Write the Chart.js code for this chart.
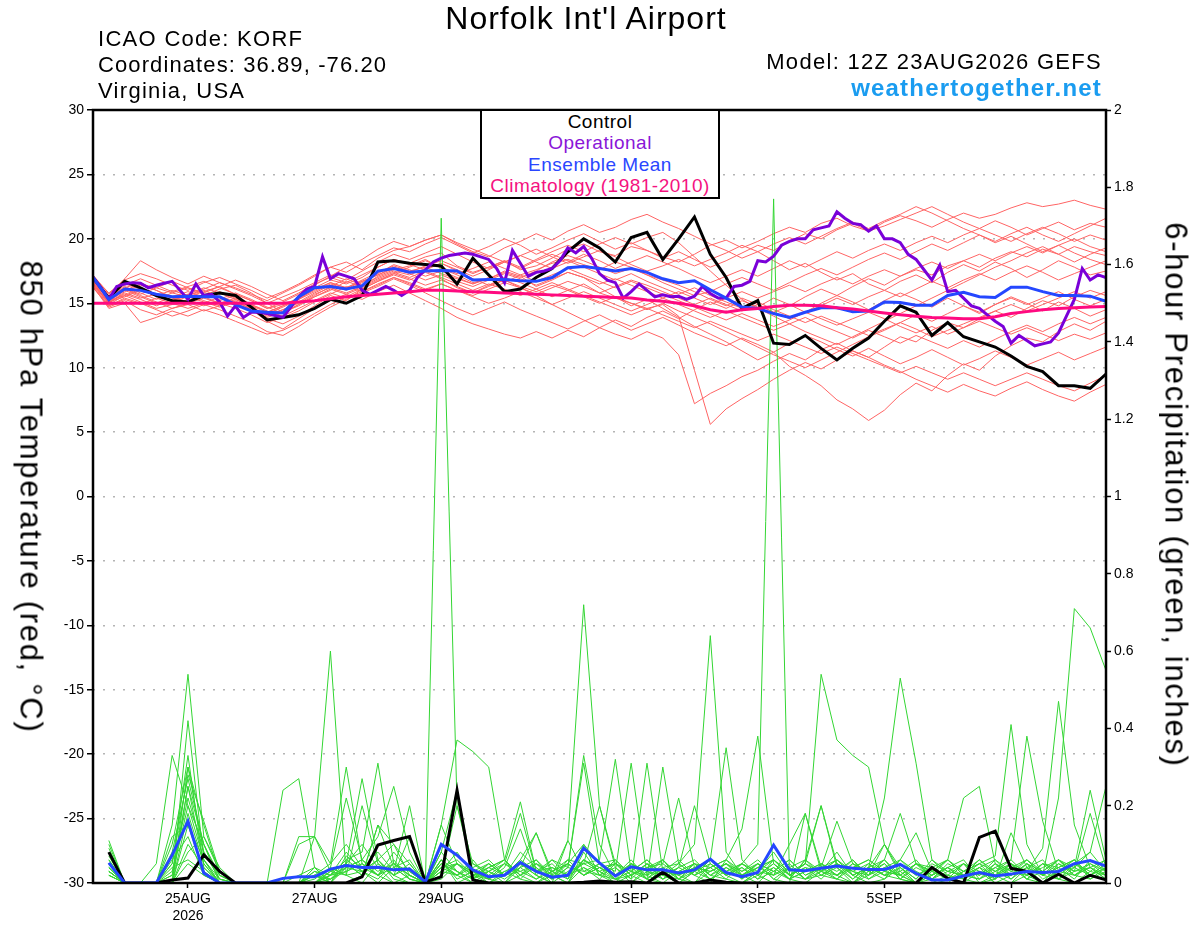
<!DOCTYPE html>
<html>
<head>
<meta charset="utf-8">
<script src="https://cdn.jsdelivr.net/npm/chart.js@4.4.1/dist/chart.umd.min.js"></script>
<style>
html,body{margin:0;padding:0;background:#fff;overflow:hidden}
#wrap{position:relative;width:1200px;height:927px}
.t{position:absolute;font-family:"Liberation Sans",Arial,sans-serif;color:#000;white-space:nowrap;line-height:1}
.rot{transform:translate(-50%,-50%) rotate(90deg)}
#legend{position:absolute;left:480px;top:109px;width:236px;height:86px;border:2px solid #000;background:#fff;
  text-align:center;font-family:"Liberation Sans",Arial,sans-serif;font-size:19px;line-height:21.3px;letter-spacing:0.5px}
</style>
</head>
<body>
<div id="wrap">
<canvas id="chart"></canvas>
<div class="t" style="left:0;width:1172px;text-align:center;top:2px;font-size:32px;letter-spacing:1px">Norfolk Int'l Airport</div>
<div class="t" style="left:98px;top:28px;font-size:22px;letter-spacing:1.3px">ICAO Code: KORF</div>
<div class="t" style="left:98px;top:54px;font-size:22px;letter-spacing:1.1px">Coordinates: 36.89, -76.20</div>
<div class="t" style="left:98px;top:80px;font-size:22px;letter-spacing:1.3px">Virginia, USA</div>
<div class="t" style="right:98px;top:51px;font-size:22px;letter-spacing:1.3px">Model: 12Z 23AUG2026 GEFS</div>
<div class="t" style="right:98px;top:76px;font-size:24px;font-weight:bold;letter-spacing:1.2px;color:#1a9cf0">weathertogether.net</div>
<div class="t rot" style="left:31px;top:497px;font-size:31px;letter-spacing:1.7px">850 hPa Temperature (red, °C)</div>
<div class="t rot" style="left:1176px;top:495px;font-size:31px;letter-spacing:1.7px">6-hour Precipitation (green, inches)</div>
<div id="legend">
<div style="color:#000">Control</div>
<div style="color:#8a16d8">Operational</div>
<div style="color:#2a46ff">Ensemble Mean</div>
<div style="color:#f5127f">Climatology (1981-2010)</div>
</div>
</div>
<script>
// x axis is forecast hour from 12Z 23AUG2026
const tickHours = [36, 84, 132, 204, 252, 300, 348];
const tickLabels = [['25AUG', '2026'], '27AUG', '29AUG', '1SEP', '3SEP', '5SEP', '7SEP'];

// 850 hPa temperature, 6-hourly from hour 0
const controlT = [17.0,15.4,16.7,16.2,15.6,15.2,15.1,15.6,15.8,15.6,
  14.7,13.7,13.9,14.1,14.6,15.3,15.0,15.6,18.2,18.3,
  18.1,18.0,17.9,16.5,18.5,17.2,15.9,16.1,17.0,17.7,
  19.0,20.0,19.3,18.2,20.1,20.5,18.4,20.0,21.7,18.8,
  17.0,14.6,15.2,11.9,11.8,12.5,11.5,10.6,11.5,12.3,
  13.6,14.8,14.3,12.5,13.5,12.4,12.0,11.6,10.9,10.1,
  9.7,8.6,8.6,8.4,9.5];
// operational run is 3-hourly
const operationalT = [17.0,16.2,15.3,16.3,16.5,16.6,16.55,16.2,16.4,16.55,
  16.7,16.0,15.3,16.5,15.6,15.7,15.1,14.0,14.8,13.9,
  14.3,14.3,14.2,14.05,13.9,14.7,15.5,16.1,16.3,18.6,
  16.9,17.3,17.1,16.9,16.0,15.7,16.0,16.3,16.0,15.6,
  16.0,17.0,17.6,18.2,18.5,18.7,18.8,18.9,18.8,18.6,
  18.4,17.7,16.6,19.1,18.1,17.1,17.4,17.5,17.7,18.3,
  19.3,18.9,19.4,18.5,17.3,16.8,16.6,15.4,15.9,16.5,
  16.0,15.5,15.65,15.5,15.55,15.3,15.55,16.3,15.75,15.4,
  15.4,16.3,16.4,16.7,18.3,18.2,18.65,19.5,19.8,20.0,
  20.0,20.7,20.85,21.0,22.1,21.6,21.2,21.1,20.6,21.0,
  20.0,20.0,19.7,18.8,18.4,17.6,16.8,17.95,15.9,16.0,
  15.4,14.8,14.6,14.1,13.6,13.2,11.9,12.5,12.1,11.7,
  11.85,12.0,12.7,14.0,15.3,17.7,16.8,17.2,17.0];
const meanT = [17.0,15.3,16.1,16.0,15.7,15.5,15.55,15.5,15.5,14.9,
  14.4,14.3,14.25,15.5,16.2,16.3,16.1,16.35,17.5,17.7,
  17.4,17.5,17.55,17.5,16.8,16.85,16.85,16.75,16.7,17.0,
  17.75,17.85,17.7,17.5,17.7,17.4,16.9,16.6,16.75,16.05,
  15.4,14.7,14.6,14.2,13.9,14.3,14.65,14.65,14.35,14.4,
  15.1,15.05,14.85,14.85,15.6,15.85,15.5,15.45,16.25,16.25,
  15.9,15.6,15.6,15.55,15.15];
const climT = [15.0,15.0,15.0,15.0,15.0,15.0,15.0,15.0,15.0,15.0,
  15.0,15.0,15.0,15.1,15.2,15.35,15.5,15.6,15.7,15.8,
  15.9,16.0,16.0,15.95,15.9,15.85,15.8,15.75,15.7,15.65,
  15.6,15.55,15.5,15.45,15.4,15.25,15.15,15.0,14.8,14.5,
  14.3,14.5,14.6,14.75,14.85,14.85,14.8,14.65,14.55,14.4,
  14.25,14.1,14.0,13.9,13.85,13.8,13.8,13.95,14.2,14.35,
  14.5,14.6,14.65,14.7,14.75];

// ensemble member temperatures
const t01 = [16.8,15.2,16.0,16.5,16.2,15.8,15.5,15.9,16.3,15.7,15.2,14.6,14.9,15.4,16.2,16.8,16.5,17.0,17.8,18.4,18.1,18.6,18.9,17.9,17.4,17.8,18.3,17.6,17.9,18.5,19.2,19.6,19.0,18.7,19.4,19.1,18.6,18.2,18.8,19.5,19.9,19.3,19.8,20.4,20.9,20.5,21.2,21.6,21.0,20.6,21.3,21.8,21.4,20.9,21.5,22.0,21.6,21.9,22.4,22.8,22.5,22.7,23.0,22.6,22.3];
const t02 = [16.5,14.9,15.6,15.1,14.6,14.9,15.3,14.8,15.2,15.6,14.9,13.8,13.4,14.0,14.8,15.6,15.2,16.1,16.7,17.2,16.8,17.4,16.9,16.2,15.8,16.4,17.0,16.6,16.1,15.5,16.0,16.5,15.8,15.4,15.0,14.6,14.9,14.0,9.8,5.6,6.8,7.6,8.3,9.1,9.8,10.4,9.9,10.6,11.3,10.8,11.6,12.4,12.0,12.9,13.5,13.1,13.8,14.4,13.9,14.6,15.2,14.8,15.5,16.0,15.6];
const t03 = [16.9,15.5,16.2,16.6,16.0,15.4,15.0,15.6,16.1,16.4,15.8,15.0,14.3,14.8,15.5,16.0,16.7,16.3,17.1,17.6,17.9,18.4,17.7,17.2,16.6,16.9,17.5,17.1,16.3,16.8,17.4,17.0,16.2,15.5,14.8,15.3,14.6,13.9,13.2,12.6,12.0,11.3,10.6,11.2,10.1,9.4,8.6,7.5,6.8,5.9,6.7,7.9,8.8,8.2,9.4,10.3,9.8,10.9,11.7,12.3,12.0,12.8,13.4,12.9,13.6];
const t04 = [17.1,15.8,16.8,17.3,16.9,16.4,16.0,16.6,17.0,16.5,16.0,15.4,15.9,16.5,17.2,17.8,18.2,17.6,18.5,19.1,19.4,19.9,20.3,19.6,19.0,18.6,19.3,19.8,20.4,19.9,20.6,21.1,20.5,20.9,21.5,21.9,21.3,20.8,20.2,19.6,19.1,18.5,19.0,18.3,17.6,18.1,17.4,16.8,17.3,16.5,16.0,16.7,17.2,16.6,17.4,18.0,17.5,18.2,17.7,17.0,17.6,18.3,17.8,17.2,17.5];
const t05 = [16.6,15.0,15.8,15.4,15.7,15.2,15.6,16.0,15.5,15.1,14.6,14.2,14.7,15.3,16.1,16.6,16.2,16.8,17.4,17.9,17.5,17.8,17.3,16.9,16.5,17.0,16.6,17.2,17.6,18.1,18.4,18.0,17.6,18.2,17.8,17.2,16.8,16.4,15.9,15.3,14.8,15.4,14.9,14.3,14.8,15.5,16.1,15.6,16.3,16.9,16.4,17.1,17.6,17.2,17.9,18.3,17.8,18.5,19.0,18.6,19.2,18.8,19.4,19.0,18.7];
const t06 = [16.3,14.7,15.2,14.5,14.1,14.6,14.9,14.4,14.8,15.2,14.5,13.6,13.0,13.8,14.6,15.2,15.7,15.3,15.9,16.4,15.8,15.2,14.6,13.9,13.4,13.0,12.6,12.3,12.8,12.3,12.9,12.4,13.1,13.7,13.2,13.9,14.4,13.8,14.5,15.1,14.6,15.2,14.7,15.4,14.9,14.3,15.0,15.6,15.1,14.5,15.2,15.8,15.3,14.7,15.4,14.8,14.2,14.9,15.5,15.0,14.4,15.1,14.6,14.0,14.5];
const t07 = [17.2,15.7,16.9,18.3,17.6,17.0,16.5,17.1,16.6,16.2,15.7,15.2,15.8,16.4,17.1,17.8,17.4,18.1,18.7,19.3,19.0,19.6,20.1,19.5,18.9,19.4,20.0,19.5,18.8,19.3,19.9,20.4,19.8,19.2,19.7,19.1,18.5,19.0,18.4,17.8,18.3,18.9,19.5,19.1,19.8,20.4,20.0,20.7,21.2,20.6,21.0,21.5,22.0,22.5,21.9,21.3,20.8,21.4,20.9,20.3,20.8,21.3,20.7,21.2,20.9];
const t08 = [16.7,15.3,16.3,15.8,15.3,15.8,16.2,15.7,15.3,15.8,15.3,14.7,14.2,14.9,15.6,16.3,16.9,16.4,17.0,17.5,17.2,17.7,18.1,17.5,16.9,16.4,16.8,16.2,15.6,14.9,14.3,13.7,13.1,12.6,12.2,12.8,12.3,11.0,7.2,8.0,8.6,9.3,9.8,10.5,11.1,10.6,11.4,11.9,11.3,10.8,10.2,9.7,9.1,8.6,8.1,8.7,8.2,7.8,8.4,8.9,8.3,7.8,7.4,8.1,8.7];
const t09 = [16.4,15.1,15.5,16.0,15.6,15.1,15.5,15.1,14.7,15.1,14.6,14.1,14.5,15.1,15.8,16.4,16.0,16.6,17.3,18.0,17.6,17.1,17.5,17.0,16.5,16.9,17.4,17.0,17.5,18.2,18.7,18.3,17.8,17.3,17.7,17.2,16.6,16.1,15.6,15.9,16.5,17.0,16.5,16.0,16.6,17.2,17.7,17.2,17.8,18.4,18.9,18.4,19.0,19.6,19.1,19.7,20.3,19.8,20.4,20.9,20.3,19.8,20.4,21.0,21.6];
const t10 = [16.2,14.8,15.4,15.0,14.5,14.0,14.4,14.9,14.5,14.0,13.5,12.8,12.5,13.2,14.0,14.7,15.3,15.8,16.3,16.9,16.4,15.8,15.2,14.6,14.1,14.6,15.1,14.5,14.0,13.5,13.0,13.6,14.1,13.5,12.9,13.4,13.9,13.3,12.7,12.2,11.7,12.3,11.8,11.2,11.9,12.5,12.0,11.4,10.9,11.5,10.9,10.3,10.8,11.4,10.8,10.2,10.7,11.3,10.8,10.2,10.7,11.2,10.6,11.1,11.6];
const t11 = [16.9,15.6,16.5,16.1,15.6,16.0,15.6,16.1,16.6,16.1,15.6,15.0,15.5,16.0,16.6,17.2,16.8,17.5,18.2,18.8,18.4,18.9,19.4,18.8,18.2,17.7,18.2,18.7,19.2,18.6,18.1,18.6,19.1,18.6,18.0,17.5,17.9,18.4,17.9,18.4,18.9,19.5,19.0,19.6,20.1,19.6,20.2,20.8,21.3,20.8,21.4,21.9,22.5,22.0,21.4,20.8,20.3,19.7,20.2,19.6,19.0,19.5,18.9,18.4,18.0];
const t12 = [16.5,15.0,15.9,16.4,16.0,15.5,15.1,15.5,15.9,15.4,14.9,14.4,14.0,14.6,15.2,15.8,15.4,15.9,16.5,17.0,16.6,16.1,16.5,16.0,15.6,16.1,16.6,16.2,15.7,16.2,16.7,16.3,15.8,16.3,16.8,16.4,15.9,15.4,14.9,15.4,14.9,14.4,14.9,14.3,13.8,14.3,13.8,13.3,13.8,14.3,13.8,13.2,12.7,13.2,12.6,13.1,13.6,13.1,12.6,13.1,12.6,12.1,12.6,12.2,12.7];
const t13 = [16.3,14.6,15.0,13.5,13.9,14.4,14.0,14.5,14.1,13.6,13.1,12.6,12.9,13.5,14.2,14.9,15.5,16.1,16.7,17.3,17.8,18.3,17.8,17.3,17.7,18.2,17.7,17.2,16.7,17.2,17.7,17.2,16.7,16.2,16.7,16.2,15.7,15.2,14.7,14.2,13.7,14.2,13.7,13.2,13.7,14.3,14.8,15.4,14.9,15.5,16.0,15.5,16.1,16.7,16.2,16.8,17.3,16.8,17.4,17.9,17.4,16.8,17.3,17.8,18.3];
const t14 = [17.0,15.4,16.4,16.9,16.4,15.9,16.3,16.7,16.2,15.7,15.2,14.6,15.1,15.7,16.4,17.1,17.8,18.4,19.2,19.8,19.4,19.9,20.3,19.7,19.2,18.7,18.2,17.7,18.3,18.8,18.3,17.8,17.3,16.8,17.3,16.7,16.2,15.7,16.2,15.6,15.1,14.6,15.1,14.5,14.0,13.5,14.0,13.5,13.0,12.5,13.0,13.5,13.0,12.4,12.9,13.4,13.9,14.4,14.9,14.4,14.9,15.4,15.9,15.4,15.9];
const t15 = [16.6,15.1,15.7,15.3,14.8,15.3,15.7,15.2,14.8,15.3,14.7,14.0,14.5,15.0,15.7,16.2,15.8,16.3,16.9,17.4,17.0,17.5,17.0,16.5,16.0,16.5,16.1,15.6,16.1,16.6,16.1,15.6,15.1,14.6,14.1,14.6,14.1,13.6,13.1,13.6,13.1,12.6,12.1,12.6,12.1,11.6,11.1,11.6,11.1,10.6,10.1,9.6,10.1,9.6,9.1,9.6,9.1,8.6,9.1,9.6,9.1,8.6,8.2,8.8,9.4];
const t16 = [16.8,15.4,16.1,15.7,16.2,16.7,16.2,15.8,16.3,16.8,16.3,15.7,15.2,15.8,16.5,17.0,16.6,17.2,17.8,18.4,18.0,17.6,18.1,17.6,17.1,17.6,18.2,18.7,18.2,17.7,18.2,18.8,18.3,17.7,18.2,18.7,18.2,17.7,17.1,16.6,17.1,17.6,17.1,17.7,18.3,17.8,18.4,19.0,18.5,19.1,19.6,19.1,19.7,20.2,19.7,20.3,20.8,20.3,19.8,20.4,20.9,20.4,19.8,20.3,19.9];
const t17 = [16.4,14.8,15.3,14.9,15.4,15.0,14.6,15.0,15.5,15.0,14.5,13.9,14.3,14.9,15.5,16.1,15.7,16.2,16.8,17.3,16.9,16.4,16.8,16.3,15.8,16.3,16.8,16.3,15.9,16.4,16.0,15.5,15.0,15.5,15.0,14.5,15.0,14.4,13.9,13.4,12.8,12.2,11.6,11.0,10.5,10.0,10.6,11.2,11.8,12.4,12.9,13.5,14.1,13.6,14.2,14.8,14.3,14.9,15.4,14.9,15.4,15.9,15.3,14.8,15.3];
const t18 = [16.7,15.2,15.6,16.1,15.7,15.2,15.7,16.2,15.8,15.3,14.8,14.3,14.8,15.4,16.0,16.6,16.2,16.7,17.2,17.7,17.3,16.8,17.2,16.7,16.3,16.8,17.3,16.9,16.4,16.9,17.4,17.0,16.5,16.9,16.4,15.9,15.4,15.9,15.4,14.9,15.4,15.9,15.4,15.9,16.4,15.9,16.5,17.0,16.5,17.1,17.6,17.1,17.7,18.2,17.7,18.3,18.8,18.3,18.9,19.4,18.9,19.5,20.0,19.4,19.0];
const t19 = [16.5,15.1,16.0,15.5,15.0,15.5,15.9,15.5,15.0,15.4,14.9,14.3,14.8,15.3,15.9,16.5,16.1,16.7,17.2,17.8,17.4,17.9,18.3,17.8,17.3,17.8,18.3,17.8,18.4,19.0,19.5,19.0,19.6,20.1,19.6,20.1,20.5,19.7,18.6,17.5,16.4,15.3,14.6,14.0,13.4,13.9,13.3,12.8,12.3,12.9,12.4,11.9,12.5,12.0,11.5,12.1,11.6,12.2,12.8,13.3,12.8,13.4,13.9,13.4,13.9];
const t20 = [16.6,15.3,16.1,15.6,15.1,14.6,15.0,15.4,15.0,14.6,14.1,13.5,13.9,14.4,15.1,15.7,16.3,15.9,16.4,17.0,16.5,16.0,16.5,16.0,15.5,15.0,15.4,15.9,15.4,14.9,15.4,15.9,15.4,14.9,14.4,14.9,15.4,14.9,14.4,13.9,14.4,13.9,13.4,12.9,13.4,12.8,12.3,11.8,12.4,13.0,13.6,14.2,14.8,15.4,16.0,16.6,17.2,17.8,18.3,18.9,19.4,18.8,18.2,18.8,19.3];
const tempMembers = [t01,t02,t03,t04,t05,t06,t07,t08,t09,t10,t11,t12,t13,t14,t15,t16,t17,t18,t19,t20];

// 6-hour precipitation, from hour 6
const controlP = [0.08,0,0,0,0.008,0.013,0.073,0.03, 0,0,0,0,0,0,0,0,
  0.016,0.098,0.11,0.12,0.003,0.016,0.24,0.008, 0,0,0,0,0,0,0.002,0.005,
  0.002,0.003,0,0.028,0,0,0.008,0.002, 0,0,0,0,0,0,0,0,
  0,0,0,0,0.04,0.012,0,0.118, 0.134,0.038,0.03,0,0.023,0,0.02,0.008];
const meanP = [0.052,0,0,0,0.072,0.16,0.026,0, 0,0,0,0.012,0.016,0.016,0.036,0.045,
  0.04,0.041,0.034,0.036,0.003,0.1,0.072,0.034, 0.016,0.02,0.053,0.03,0.015,0.02,0.09,0.052,
  0.018,0.042,0.034,0.034,0.026,0.034,0.062,0.027, 0.016,0.027,0.098,0.034,0.032,0.038,0.044,0.038,
  0.035,0.035,0.048,0.025,0.008,0.008,0.018,0.027, 0.018,0.023,0.03,0.027,0.03,0.05,0.058,0.044];

const p01 = [.03,0,0,0,.02,.25,.05,0, 0,0,0,0,0,.02,.05,.1, .04,.02,0,0,0,1.72,.2,.03, 0,0,.05,.02,0,0,.04,.02, 0,.05,.02,0,0,.03,.01,0, 0,.02,.05,.01,0,.03,.08,.02, 0,.01,.04,0,0,.02,0,.03, 0,0,.02,.05,.01,0,.03,.06];
const p02 = [.06,0,0,0,.1,.3,.08,.02, 0,0,0,0,.02,.04,0,.05, .1,.04,0,.02,0,.05,.02,0, .03,.06,.01,0,.02,.05,.1,.02, .01,0,.04,.02,0,.03,.06,.02, .05,.1,1.77,.02,.01,.04,.02,0, .03,.05,.01,0,.02,.04,.01,0, .02,.05,.01,0,.03,.02,.04,.01];
const p03 = [.08,0,0,0,.15,.54,.12,.03, 0,0,0,0,0,0,.02,.08, .03,0,.04,.01,0,.08,.03,0, 0,.02,.08,.04,0,.11,.72,.2, .05,.02,0,.04,.01,0,.05,.02, 0,.03,.08,.02,.05,.2,.04,0, .02,.06,.01,0,.03,.02,.05,0, .01,.13,.04,0,.02,.05,.08,.03];
const p04 = [.02,0,0,.05,.33,.2,.1,.01, 0,0,0,0,0,.12,.6,.02, 0,.05,.02,0,0,.06,0,.02, .01,0,.04,.13,.02,0,.06,.03, 0,.02,.05,.01,.04,.02,0,.06, .02,.05,.01,0,.18,.04,.01,0, .04,.1,.02,0,.01,.03,.02,.04, 0,.02,.05,.01,.03,.04,.24,.06];
const p05 = [.04,0,0,0,0,.42,.06,0, 0,0,0,.24,.27,.04,0,0, .02,.06,.01,0,0,.03,.08,.02, 0,.03,.01,.05,.02,0,.08,.02, .04,0,.03,.02,.05,.1,.64,.08, .02,0,.04,.01,.03,.05,.02,.06, .01,.03,.02,0,.04,.01,.02,.01, .03,.06,.02,0,.05,.02,.01,.04];
const p06 = [.05,0,0,0,.05,.33,.04,0, 0,0,0,0,.1,.12,.05,.3, .05,.02,.06,.01,0,.04,.05,.01, .03,0,.02,.06,.01,.04,.33,.1, .02,.05,.01,0,.03,.05,.02,.01, 0,.03,.06,.02,.05,.54,.37,.33, .3,.1,.03,0,.02,.04,.01,.03, .02,0,.04,.02,.01,.05,.03,.02];
const p07 = [.03,0,0,0,0,.3,.15,.02, 0,0,0,0,0,.03,.02,.06, .08,.31,.05,.02,0,.15,.37,.34, .3,.06,.02,0,.03,.05,.02,.04, .01,.02,.04,.06,.02,0,.03,.05, .01,.04,.02,.05,.01,.03,.06,.02, .04,.22,.53,.31,.06,.02,.01,.04, .02,.05,.01,.03,.06,.02,.04,.01];
const p08 = [.07,0,0,0,.08,.27,.1,0, 0,0,0,0,0,0,.03,.05, .27,.06,.02,.05,0,.02,.05,.03, .01,.04,.14,.02,0,.03,.05,.06, .32,.03,.01,.05,.02,.04,.01,.03, .05,.02,0,.04,.01,.02,.05,.03, .01,.04,.02,.05,.01,0,.03,.05, .07,.41,.1,.02,.04,.06,.02,.05];
const p09 = [.05,0,0,0,.03,.22,.08,.01, 0,0,0,0,0,.02,0,.04, .06,.12,.25,.08,0,.05,.03,.01, .05,.02,.06,.03,.05,.01,.1,.05, .03,.31,.02,.04,.01,.03,.05,.02, .04,.01,.06,.02,.04,.03,.01,.05, .03,.01,.06,.02,.04,.01,.05,.03, .01,.05,.03,.09,.47,.15,.04,.02];
const p10 = [.1,0,0,0,0,.18,.05,0, 0,0,0,0,0,.04,.02,.03, .05,.02,.08,.03,0,.04,.02,.05, .02,.05,.03,.01,.04,.02,.06,.03, .05,.01,.31,.03,.02,.05,.01,.04, .02,.05,.03,.01,.06,.02,.04,.01, .05,.02,.03,.06,.01,.04,.02,.05, .03,.01,.05,.02,.22,.71,.66,.55];
const p11 = [.02,0,0,0,.12,.15,.03,0, 0,0,0,0,0,0,.04,.02, .03,.06,.02,.12,0,.01,.05,.02, .04,.06,.21,.03,.01,.05,.02,.04, .02,.04,.01,.3,.05,.02,.04,.06, .14,.38,.05,.02,.04,.01,.05,.02, .04,.02,.01,.05,.03,.06,.02,.01, .04,.02,.06,.03,.01,.04,.02,.05];
const p12 = [.04,0,0,0,.06,.12,.02,0, 0,0,0,0,0,.03,.01,.05, .02,.15,.04,.01,0,.03,.02,.06, .01,.03,.05,.02,.06,.04,.03,.02, .06,.02,.04,.05,.22,.04,.06,.35, .06,.02,.05,.01,.03,.05,.02,.04, .06,.03,.05,.02,.04,.06,.22,.25, .05,.02,.04,.06,.01,.03,.05,.02];
const p13 = [.03,0,0,0,0,.08,.12,.04, 0,0,0,0,0,0,.02,.06, .03,.01,.05,.02,0,.06,.01,.03, .05,.02,.04,.01,.03,.06,.02,.05, .01,.03,.06,.02,.04,.2,.05,.02, .04,.01,.03,.06,.02,.04,.16,.05, .02,.1,.04,.01,.05,.03,.02,.06, .03,.05,.02,.04,.06,.03,.18,.04];
const p14 = [.06,0,0,0,0,.1,.04,0, 0,0,0,0,0,0,.01,.03, .05,.02,.04,.06,0,.03,.05,.02, .03,.05,.02,.04,.01,.06,.05,.2, .04,.01,.05,.03,.06,.02,.04,.01, .05,.03,.02,.1,.18,.03,.05,.01, .04,.02,.06,.03,.01,.05,.03,.02, .05,.01,.04,.02,.06,.04,.08,.25];
const p15 = [.05,0,0,0,0,.15,.06,.01, 0,0,0,0,0,.02,0,.07, .04,.08,.03,.2,0,.06,.03,.01, .04,.02,.06,.13,.03,.05,.02,.04, .02,.05,.03,.01,.04,.06,.02,.05, .03,.06,.02,.04,.01,.05,.03,.06, .02,.04,.06,.13,.03,.01,.05,.02, .04,.06,.38,.16,.03,.05,.02,.04];
const p16 = [.02,0,0,0,.04,.06,.03,0, 0,0,0,0,0,.01,.04,.22, .06,.03,.05,.02,0,.08,.24,.03, .01,.05,.18,.03,.06,.02,.04,.01, .05,.03,.02,.06,.01,.04,.03,.05, .02,.04,.06,.03,.05,.02,.01,.04, .06,.03,.02,.05,.04,.01,.03,.06, .02,.04,.01,.05,.03,.06,.02,.04];
const p17 = [.04,0,0,0,0,.05,.02,0, 0,0,0,0,0,0,.03,.02, .2,.05,.02,.04,0,.02,.2,.05, .03,.01,.04,.06,.02,.11,.03,.05, .06,.02,.05,.01,.03,.05,.02,.04, .01,.05,.03,.06,.02,.04,.06,.03, .05,.02,.04,.01,.06,.03,.05,.02, .06,.03,.02,.05,.04,.01,.06,.03];
const p18 = [.09,0,0,0,.02,.2,.06,0, 0,0,0,0,.12,.12,.03,.05, .02,.15,.1,.05,0,.04,.06,.02, .05,.02,.03,.05,.01,.04,.31,.05, .02,.06,.01,.04,.05,.02,.06,.03, .05,.02,.04,.01,.06,.2,.05,.03, .02,.05,.01,.04,.02,.06,.03,.05, .01,.04,.06,.02,.05,.03,.04,.06];
const p19 = [.03,0,0,0,.05,.28,.16,.03, 0,0,0,0,0,0,.02,.04, .06,.02,.05,.03,0,.15,.05,.02, .04,.06,.02,.05,.03,.01,.06,.04, .05,.03,.06,.02,.01,.05,.04,.06, .03,.05,.01,.04,.06,.03,.02,.05, .03,.06,.18,.05,.02,.04,.06,.01, .05,.03,.06,.02,.04,.06,.01,.03];
const p20 = [.11,0,0,0,0,.25,.1,.02, 0,0,0,0,0,.02,.01,.04, .03,.06,.1,.02,0,.05,.02,.04, .06,.02,.05,.03,.04,.02,.05,.03, .01,.05,.03,.06,.02,.04,.03,.05, .02,.04,.06,.02,.05,.03,.06,.02, .04,.06,.02,.05,.03,.06,.02,.04, .06,.02,.05,.03,.06,.02,.05,.03];
const precipMembers = [p01,p02,p03,p04,p05,p06,p07,p08,p09,p10,p11,p12,p13,p14,p15,p16,p17,p18,p19,p20];

const toXY = (arr, start, step) => arr.map((v, j) => ({x: start + j * step, y: v}));

function line(data, color, width, axis, order) {
  return {data: data, borderColor: color, borderWidth: width, yAxisID: axis, order: order,
    pointRadius: 0, tension: 0, fill: false};
}

const datasets = [];
tempMembers.forEach(a => datasets.push(line(toXY(a, 0, 6), '#ff6464', 1, 'y', 7)));
precipMembers.forEach(a => datasets.push(line(toXY(a, 6, 6), '#33d633', 1, 'y2', 6)));
datasets.push(line(toXY(controlP, 6, 6), '#000', 3, 'y2', 5));
datasets.push(line(toXY(meanP, 6, 6), '#2447ff', 3, 'y2', 4));
datasets.push(line(toXY(controlT, 0, 6), '#000', 3, 'y', 3));
datasets.push(line(toXY(operationalT, 0, 3), '#7a00d8', 3, 'y', 2));
datasets.push(line(toXY(meanT, 0, 6), '#2447ff', 3, 'y', 1));
datasets.push(line(toXY(climT, 0, 6), '#ff0a80', 3, 'y', 0));

const frame = {
  id: 'frame',
  afterDatasetsDraw(chart) {
    const {ctx, chartArea: a} = chart;
    ctx.save();
    ctx.strokeStyle = '#000';
    ctx.lineWidth = 2.5;
    ctx.strokeRect(a.left, a.top, a.right - a.left, a.bottom - a.top);
    ctx.restore();
  }
};

Chart.defaults.font.family = '"Liberation Sans", Arial, sans-serif';
Chart.defaults.color = '#000';

new Chart(document.getElementById('chart'), {
  type: 'line',
  data: {datasets: datasets},
  plugins: [frame],
  options: {
    responsive: true,
    maintainAspectRatio: false,
    animation: false,
    layout: {padding: {top: 110, left: 0, right: 0, bottom: 0}},
    plugins: {legend: {display: false}, tooltip: {enabled: false}},
    scales: {
      x: {
        type: 'linear', min: 0, max: 384,
        afterBuildTicks: s => { s.ticks = tickHours.map(v => ({value: v})); },
        afterFit: s => { s.height = 44; },
        grid: {drawOnChartArea: false, drawTicks: true, tickLength: 5, tickColor: '#000', tickWidth: 1.5},
        border: {display: false},
        ticks: {font: {size: 14}, padding: 3, maxRotation: 0, autoSkip: false,
          callback: v => { const k = tickHours.indexOf(v); return k >= 0 ? tickLabels[k] : ''; }}
      },
      y: {
        position: 'left', min: -30, max: 30,
        afterFit: s => { s.width = 93; },
        grid: {color: '#b4b4b4', lineWidth: 1.5, drawTicks: true, tickLength: 6, tickColor: '#000', tickWidth: 1.5, tickBorderDash: []},
        border: {display: false, dash: [2, 8]},
        ticks: {stepSize: 5, font: {size: 14}, padding: 3}
      },
      y2: {
        position: 'right', min: 0, max: 2,
        afterFit: s => { s.width = 94; },
        grid: {drawOnChartArea: false, drawTicks: true, tickLength: 5, tickColor: '#000', tickWidth: 1.5},
        border: {display: false},
        ticks: {stepSize: 0.2, font: {size: 14}, padding: 3, callback: v => String(Math.round(v * 10) / 10)}
      }
    }
  }
});
</script>
</body>
</html>
